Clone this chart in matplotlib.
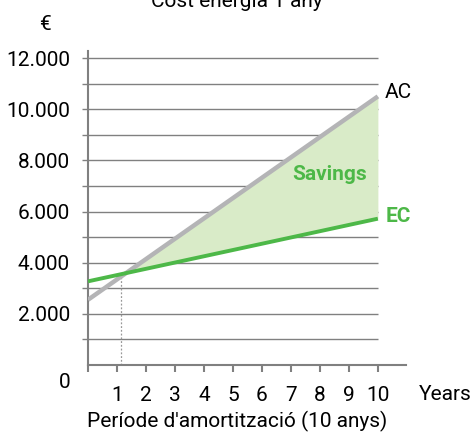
import matplotlib
matplotlib.use("Agg")
import matplotlib.pyplot as plt
import numpy as np

plt.rcParams["font.family"] = ["Roboto", "DejaVu Sans"]

# yearly cost (EUR) at start and end of the 10 year period
years = [0, 10]
ac_cost = [2550, 10500]
ec_cost = [3270, 5720]
payback_year = 1.15

y_ticks = list(range(0, 13000, 1000))
x_ticks = list(range(0, 11))

grey = "#808080"
green = "#4db848"
ac_grey = "#b4b4b6"
fill_green = "#d9ebc8"
fs = 15

fig = plt.figure(figsize=(4.74, 4.34), dpi=100)
ax = fig.add_axes([88 / 474, 1 - 365 / 434, 318 / 474, 314 / 434])
ax.set_xlim(0, 10.97)
ax.set_ylim(0, 12274)

for s in ["top", "right"]:
    ax.spines[s].set_visible(False)
for s in ["left", "bottom"]:
    ax.spines[s].set_color(grey)
    ax.spines[s].set_linewidth(1.5)

# horizontal grid, starting just left of the axis
ax.hlines(y_ticks[1:], -0.2, 10, color=grey, lw=1, clip_on=False, zorder=1)

xs = np.linspace(years[0], years[1], 200)
ac = np.interp(xs, years, ac_cost)
ec = np.interp(xs, years, ec_cost)
ax.fill_between(xs, ec, ac, where=xs >= payback_year, color=fill_green, lw=0, zorder=2)
ax.plot(years, ac_cost, color=ac_grey, lw=3.2, zorder=3, solid_capstyle="butt")
ax.plot(years, ec_cost, color=green, lw=2.8, zorder=4, solid_capstyle="butt")

cross = np.interp(payback_year, years, ec_cost)
ax.vlines(payback_year, 0, cross, color="#999999", lw=0.9, linestyles=(0, (1.5, 1.5)), zorder=2)

ax.set_yticks(y_ticks)
ax.set_yticklabels([f"{v:,}".replace(",", ".") if v > 0 and v % 2000 == 0 else "" for v in y_ticks])
ax.tick_params(axis="y", length=0, pad=13, labelsize=fs)
ax.set_xticks(x_ticks)
ax.set_xticklabels([""] + [str(x) for x in x_ticks[1:]])
ax.tick_params(axis="x", length=5, width=1.5, color=grey, pad=10, labelsize=fs)

ax.text(-0.62, -700, "0", ha="right", va="center", fontsize=fs, clip_on=False)
ax.text(11.4, -1150, "Years", ha="left", va="center", fontsize=fs, clip_on=False)
ax.text(10.25, 10650, "AC", ha="left", va="center", fontsize=fs, color="black")
ax.text(10.25, 5800, "EC", ha="left", va="center", fontsize=fs, color=green, fontweight="bold")
ax.text(8.35, 7450, "Savings", ha="center", va="center", fontsize=fs, color=green, fontweight="bold")

fig.text(45 / 474, 1 - 24 / 434, "€", ha="center", va="center", fontsize=fs)
fig.text(0.5, 1 - 7 / 434, "Cost energia 1 any", ha="center", va="baseline", fontsize=fs)
fig.text(237 / 474, 1 - 421 / 434, "Període d'amortització (10 anys)", ha="center", va="center", fontsize=fs)

fig.savefig("out.png", dpi=100)
